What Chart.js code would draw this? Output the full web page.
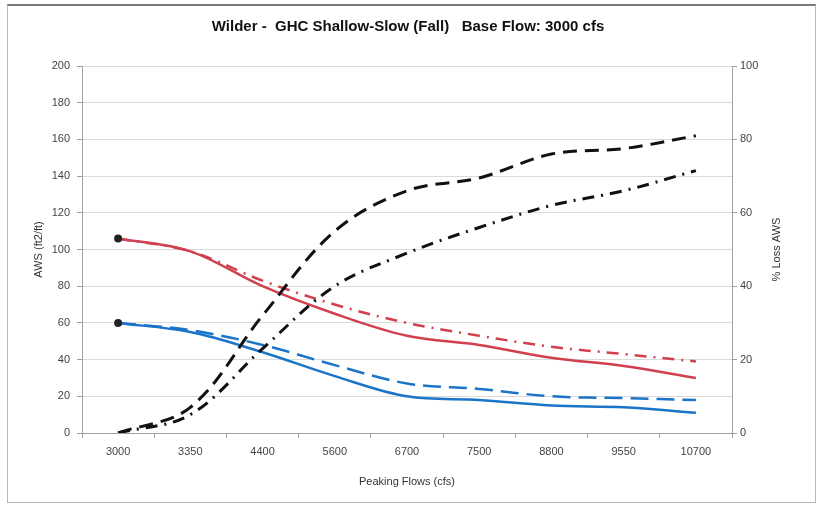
<!DOCTYPE html>
<html>
<head>
<meta charset="utf-8">
<script src="https://cdn.jsdelivr.net/npm/chart.js@4/dist/chart.umd.min.js"></script>
<style>
  body { margin: 0; background: #fff; }
  .frame {
    position: absolute; left: 7px; top: 4px; width: 807px; height: 496px;
    border: 1px solid #b8b8b8; border-top: 2px solid #7a7a7a;
  }
  .graph-container { position: absolute; left: 0; top: 0; width: 818px; height: 505px; }
</style>
</head>
<body>
<div class="frame"></div>
<div class="graph-container"><canvas id="myChart" width="818" height="505"></canvas></div>
<script>
const flows = ["3000", "3350", "4400", "5600", "6700", "7500", "8800", "9550", "10700"];

// AWS (ft2/ft), left axis
const awsRedSolid = [106, 99, 80, 65, 53, 48, 41, 36.5, 30];
const awsRedDashDot = [106, 99, 83, 70, 60, 53, 47, 43, 39];
const awsBlueSolid = [60, 55, 44, 31, 20, 18, 15, 14, 11];
const awsBlueDashed = [60, 56, 48, 37, 27, 24, 20, 19, 18];

// % Loss AWS, right axis
const lossDashed = [0, 7, 32, 55, 66, 69.5, 76, 77.5, 81];
const lossDashDot = [0, 5, 23, 40, 49, 56, 62, 66, 71.5];

const leftTicks = [0, 20, 40, 60, 80, 100, 120, 140, 160, 180, 200];
const rightTicks = [0, 20, 40, 60, 80, 100];

const red = "#d0404f";
const blue = "#1c74c8";
const tickFont = { family: "Liberation Sans, Arial", size: 11 };

const firstDot = (data) => data.map((v, i) => (i === 0 ? 4 : 0));

const line = (data, color, dash, axis, width, dots) => ({
  data: data,
  yAxisID: axis,
  borderColor: color,
  borderWidth: width,
  borderDash: dash,
  fill: false,
  tension: 0.35,
  pointRadius: dots ? firstDot(data) : 0,
  pointBackgroundColor: "#222",
  pointBorderColor: "#222",
  pointBorderWidth: 0,
});

// right axis title reads bottom-to-top like the left one
const rightTitle = {
  id: "rightTitle",
  afterDraw: (chart) => {
    const ctx = chart.ctx;
    const area = chart.chartArea;
    ctx.save();
    ctx.translate(777, (area.top + area.bottom) / 2);
    ctx.rotate(-Math.PI / 2);
    ctx.font = "11px Liberation Sans, Arial";
    ctx.fillStyle = "#333";
    ctx.textAlign = "center";
    ctx.textBaseline = "middle";
    ctx.fillText("% Loss AWS", 0, 0);
    ctx.restore();
  },
};

new Chart(document.getElementById("myChart"), {
  type: "line",
  data: {
    labels: flows,
    datasets: [
      line(lossDashed, "#111", [14, 8], "y2", 3, false),
      line(lossDashDot, "#111", [12, 7, 2, 7], "y2", 3, false),
      line(awsRedSolid, red, [], "y", 2.5, true),
      line(awsRedDashDot, red, [12, 7, 2, 7], "y", 2.5, false),
      line(awsBlueSolid, blue, [], "y", 2.5, true),
      line(awsBlueDashed, blue, [18, 8], "y", 2.5, false),
    ],
  },
  plugins: [rightTitle],
  options: {
    responsive: false,
    animation: false,
    layout: { padding: { left: 28, right: 30, top: 0, bottom: 0 } },
    plugins: {
      legend: { display: false },
      tooltip: { enabled: false },
      title: {
        display: true,
        text: "Wilder -  GHC Shallow-Slow (Fall)   Base Flow: 3000 cfs",
        color: "#111",
        font: { family: "Liberation Sans, Arial", size: 15, weight: "bold" },
        padding: { top: 18, bottom: 30 },
      },
    },
    scales: {
      x: {
        offset: true,
        grid: { offset: true, drawOnChartArea: false, tickLength: 5, color: "#a0a0a0" },
        border: { color: "#a0a0a0" },
        ticks: { color: "#444", font: tickFont, padding: 7, maxRotation: 0 },
        title: {
          display: true,
          text: "Peaking Flows (cfs)",
          color: "#333",
          font: tickFont,
          padding: { top: 0, bottom: 16 },
        },
        afterFit: (scale) => { scale.height = 72; },
      },
      y: {
        position: "left",
        min: 0,
        max: 200,
        afterBuildTicks: (scale) => { scale.ticks = leftTicks.map((v) => ({ value: v })); },
        grid: { color: "#dadada", tickLength: 5, tickColor: "#a0a0a0" },
        border: { color: "#a0a0a0" },
        ticks: { color: "#444", font: tickFont, padding: 7 },
        title: { display: true, text: "AWS (ft2/ft)", color: "#333", font: tickFont, padding: { top: 4 } },
        afterFit: (scale) => { scale.width = 54; },
      },
      y2: {
        position: "right",
        min: 0,
        max: 100,
        afterBuildTicks: (scale) => { scale.ticks = rightTicks.map((v) => ({ value: v })); },
        grid: { drawOnChartArea: false, tickLength: 5, color: "#a0a0a0" },
        border: { color: "#a0a0a0" },
        ticks: { color: "#444", font: tickFont, padding: 3 },
        afterFit: (scale) => { scale.width = 56; },
      },
    },
  },
});
</script>
</body>
</html>
